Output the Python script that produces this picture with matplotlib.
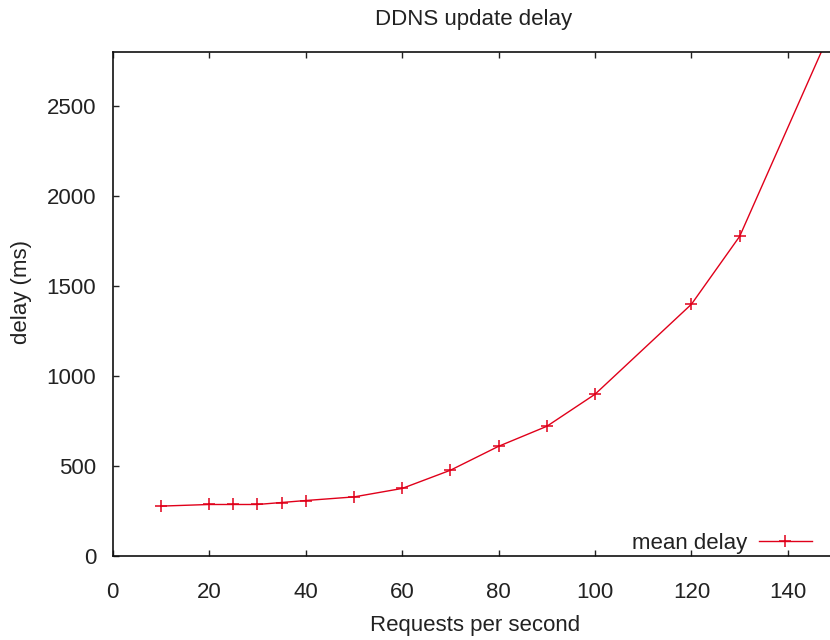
import matplotlib
matplotlib.use('Agg')
import matplotlib.pyplot as plt

# requests per second vs mean delay (ms)
rps = [10, 20, 25, 30, 35, 40, 50, 60, 70, 80, 90, 100, 120, 130, 150]
mean_delay = [277, 286, 286, 286, 297, 308, 328, 375, 476, 609, 720, 898, 1398, 1775, 2985]

x_ticks = [0, 20, 40, 60, 80, 100, 120, 140]
y_ticks = [0, 500, 1000, 1500, 2000, 2500]

plt.rcParams['font.family'] = ['Liberation Sans', 'DejaVu Sans']

W, H = 830, 640
fig = plt.figure(figsize=(W / 100, H / 100), dpi=100)

# axes extends a little past the right edge, like the cropped original
left, bottom, top = 112.7, 556, 51.7
px_per_unit = 4.823
ax = fig.add_axes([left / W, 1 - bottom / H,
                   150 * px_per_unit / W, (bottom - top) / H])

red = '#e0001a'
ax.plot(rps, mean_delay, color=red, lw=1.0, marker='+', markersize=9,
        markeredgewidth=1.1, label='mean delay', clip_on=True)

ax.set_xlim(0, 150)
ax.set_ylim(0, 2800)
ax.set_xticks(x_ticks)
ax.set_yticks(y_ticks)
ax.tick_params(direction='in', length=4, width=1, top=True, right=True,
               labelsize=16, colors='#222222')
ax.tick_params(axis='x', pad=19)
ax.tick_params(axis='y', pad=12)
for s in ax.spines.values():
    s.set_linewidth(1.2)
    s.set_color('#111111')

fig.text(474 / W, 1 - 19 / H, 'DDNS update delay', ha='center', va='center',
         fontsize=16, color='#222222')
fig.text(475 / W, 1 - 625 / H, 'Requests per second', ha='center', va='center',
         fontsize=16, color='#222222')
fig.text(22 / W, 1 - 292 / H, 'delay (ms)', ha='center', va='center',
         rotation=90, fontsize=16, color='#222222')

ax.legend(loc='lower right', bbox_to_anchor=(823 / W, 1 - 565 / H),
          bbox_transform=fig.transFigure, frameon=False, markerfirst=False,
          fontsize=16, handlelength=2.4, handletextpad=0.5, borderpad=0,
          labelcolor='#222222')

fig.savefig('out.png', dpi=100)
